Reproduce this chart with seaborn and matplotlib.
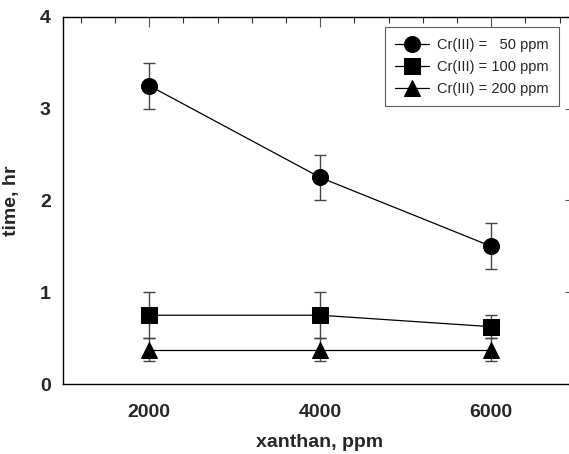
import pandas as pd
import matplotlib
matplotlib.use('Agg')
import matplotlib.pyplot as plt
import seaborn as sns
from matplotlib.ticker import MultipleLocator

# dados
xanthan = [2000, 4000, 6000]
cr_labels = ['Cr(III) =   50 ppm', 'Cr(III) = 100 ppm', 'Cr(III) = 200 ppm']
time_50 = [3.25, 2.25, 1.5]
time_100 = [0.75, 0.75, 0.625]
time_200 = [0.375, 0.375, 0.375]
err_50 = [0.25, 0.25, 0.25]
err_100 = [0.25, 0.25, 0.125]
err_200 = [0.125, 0.125, 0.125]

rows = []
for label, ys, es in zip(cr_labels, [time_50, time_100, time_200], [err_50, err_100, err_200]):
    for x, y, e in zip(xanthan, ys, es):
        rows.append([x, y, e, label])
df = pd.DataFrame(rows, columns=['xanthan', 'time', 'err', 'cr'])

sns.set_style('white')
plt.rcParams['font.family'] = ['Liberation Sans', 'DejaVu Sans']

fig = plt.figure(figsize=(5.69, 4.54), dpi=100)
# eixo direito fica um pouco fora da imagem, como no original
ax = fig.add_axes([0.111, 0.154, 0.900, 0.809])

# barras de erro primeiro, atrás dos marcadores
for label, group in df.groupby('cr', sort=False):
    ax.errorbar(group['xanthan'], group['time'], yerr=group['err'], fmt='none',
                ecolor='#444444', elinewidth=1.0, capsize=4.5, capthick=1.0, zorder=2)

sns.lineplot(data=df, x='xanthan', y='time', hue='cr', style='cr',
             markers={cr_labels[0]: 'o', cr_labels[1]: 's', cr_labels[2]: '^'},
             dashes=False, palette=['black'] * 3, linewidth=0.9,
             markersize=11.5, markeredgecolor='black', ax=ax, zorder=3)

ax.set_xlim(994, 6982)
ax.set_ylim(0, 4)
ax.xaxis.set_major_locator(MultipleLocator(2000))
ax.xaxis.set_minor_locator(MultipleLocator(400))
ax.yaxis.set_major_locator(MultipleLocator(1))
ax.yaxis.set_minor_locator(MultipleLocator(0.2))
ax.tick_params(which='major', direction='in', length=7, width=0.8, color='#555555',
               top=True, right=True, labelsize=14)
ax.tick_params(axis='x', which='major', pad=14)
ax.tick_params(axis='y', which='major', pad=9)
ax.tick_params(which='minor', direction='in', length=4, width=0.8, color='#333333',
               top=True, right=True)
for lab in ax.get_xticklabels() + ax.get_yticklabels():
    lab.set_fontweight('bold')
for sp in ax.spines.values():
    sp.set_color('black')
    sp.set_linewidth(1.0)

ax.set_xlabel('xanthan, ppm', fontsize=14, fontweight='bold', labelpad=10)
ax.set_ylabel('time, hr', fontsize=14, fontweight='bold', labelpad=14)

leg = ax.legend(loc='upper right', bbox_to_anchor=(0.968, 0.971), fontsize=10.5,
                frameon=True, fancybox=False, edgecolor='#333333',
                handlelength=2.3, handletextpad=0.55, labelspacing=0.55,
                borderpad=0.7, borderaxespad=0.0)
leg.get_frame().set_linewidth(0.8)

fig.savefig('out.png', dpi=100)
